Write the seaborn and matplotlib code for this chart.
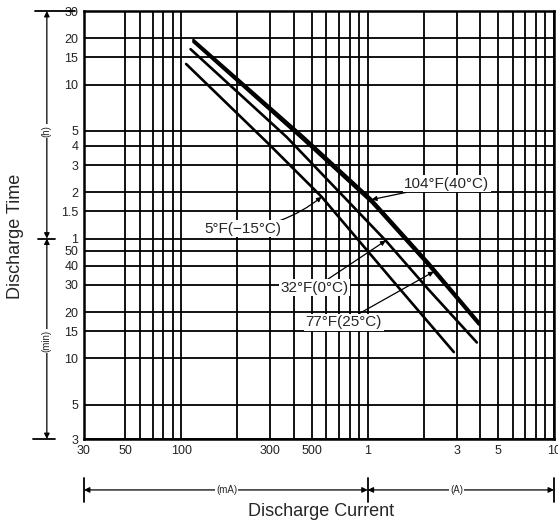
import numpy as np
import pandas as pd
import seaborn as sns
import matplotlib.pyplot as plt
from matplotlib.ticker import FixedLocator, FixedFormatter, NullLocator


# discharge current (mA) vs discharge time (min)
CURRENT_104F = [116, 453, 1051, 2128, 3953]
TIME_104F = [1167, 274, 107.5, 41.7, 17.2]
CURRENT_77F = [116, 453, 1051, 2128, 3953]
TIME_77F = [1136, 262, 103, 40, 16.6]
CURRENT_32F = [112, 367, 1250, 2128, 3855]
TIME_32F = [1018, 274, 58.2, 27.9, 12.7]
CURRENT_5F = [106, 294, 566, 1468, 2900]
TIME_5F = [816, 247, 112, 28.8, 11.0]

LABELS = ['104°F(40°C)', '77°F(25°C)', '32°F(0°C)', '5°F(−15°C)']

X_GRID = [30, 50, 60, 70, 80, 90, 100, 200, 300, 400, 500, 600, 700, 800, 900,
          1000, 2000, 3000, 4000, 5000, 6000, 7000, 8000, 9000, 10000]
X_TICK_LABELS = {30: '30', 50: '50', 100: '100', 300: '300', 500: '500',
                 1000: '1', 3000: '3', 5000: '5', 10000: '10'}
Y_GRID = [1800, 1200, 900, 600, 300, 240, 180, 120, 90, 60,
          50, 40, 30, 20, 15, 10, 5, 3]
Y_TICK_LABELS = ['30', '20', '15', '10', '5', '4', '3', '2', '1.5', '1',
                 '50', '40', '30', '20', '15', '10', '5', '3']


def build_frame():
    parts = []
    for lab, cur, tm in zip(LABELS,
                            [CURRENT_104F, CURRENT_77F, CURRENT_32F, CURRENT_5F],
                            [TIME_104F, TIME_77F, TIME_32F, TIME_5F]):
        parts.append(pd.DataFrame({'current': cur, 'time': tm, 'temp': lab}))
    return pd.concat(parts, ignore_index=True)


def curve_at(df, lab, x):
    d = df[df.temp == lab]
    return float(np.exp(np.interp(np.log(x), np.log(d.current), np.log(d.time))))


sns.set_style('white')
plt.rcParams['font.family'] = ['Liberation Sans', 'DejaVu Sans']

df = build_frame()

fig = plt.figure(figsize=(5.58, 5.25), dpi=100)
ax = fig.add_axes([0.1505, 0.1638, 0.8423, 0.8152])
ax.set_xscale('log')
ax.set_yscale('log')

sns.lineplot(data=df, x='current', y='time', hue='temp', sort=False,
             palette={l: 'black' for l in LABELS}, linewidth=1.9,
             legend=False, ax=ax, zorder=3)

ax.set_xlim(30, 10000)
ax.set_ylim(3, 1800)

ax.xaxis.set_major_locator(FixedLocator(X_GRID))
ax.xaxis.set_major_formatter(FixedFormatter([X_TICK_LABELS.get(v, '') for v in X_GRID]))
ax.xaxis.set_minor_locator(NullLocator())
ax.yaxis.set_major_locator(FixedLocator(Y_GRID))
ax.yaxis.set_major_formatter(FixedFormatter(Y_TICK_LABELS))
ax.yaxis.set_minor_locator(NullLocator())
ax.tick_params(axis='x', length=0, labelsize=9, pad=4, colors='#222222')
ax.tick_params(axis='y', length=0, labelsize=9, pad=4, colors='#222222')
ax.grid(True, color='black', linewidth=1.3)
ax.set_xlabel('')
ax.set_ylabel('')
for s in ax.spines.values():
    s.set_color('black')
    s.set_linewidth(1.8)

# curve labels with arrows
arrow = dict(arrowstyle='-|>', color='black', lw=0.9, mutation_scale=7,
             shrinkA=0, shrinkB=0)
box = dict(boxstyle='square,pad=0.1', fc='white', ec='none')
notes = [('104°F(40°C)', 1051, (0.772, 0.596), 'arc3,rad=0.0'),
         ('5°F(−15°C)', 566, (0.338, 0.491), 'arc3,rad=0.15'),
         ('32°F(0°C)', 1250, (0.491, 0.353), 'arc3,rad=0.0'),
         ('77°F(25°C)', 2265, (0.553, 0.273), 'arc3,rad=0.0')]
for lab, xc, pos, cs in notes:
    ax.annotate(lab, xy=(xc, curve_at(df, lab, xc)), xycoords='data',
                xytext=pos, textcoords='axes fraction', ha='center', va='center',
                fontsize=11, bbox=box, zorder=5,
                arrowprops=dict(arrow, connectionstyle=cs))

# dimension lines for the units
dim = dict(arrowstyle='<|-|>', color='black', lw=0.9, mutation_scale=8,
           shrinkA=0, shrinkB=0)
ax.annotate('', xy=(-0.079, 1800), xytext=(-0.079, 60),
            xycoords=('axes fraction', 'data'), arrowprops=dim, annotation_clip=False)
ax.annotate('', xy=(-0.079, 60), xytext=(-0.079, 3),
            xycoords=('axes fraction', 'data'), arrowprops=dim, annotation_clip=False)
ax.text(-0.079, 300, '(h)', transform=ax.get_yaxis_transform(), rotation=90,
        ha='center', va='center', fontsize=7, bbox=box)
ax.text(-0.079, 13, '(min)', transform=ax.get_yaxis_transform(), rotation=90,
        ha='center', va='center', fontsize=7, bbox=box)
for yv, x0, x1 in [(1800, -0.104, -0.019), (60, -0.097, -0.062), (3, -0.109, -0.062)]:
    ax.plot([x0, x1], [yv, yv], color='black', lw=1.3,
            transform=ax.get_yaxis_transform(), clip_on=False)

ax.annotate('', xy=(30, -0.119), xytext=(1000, -0.119),
            xycoords=('data', 'axes fraction'), arrowprops=dim, annotation_clip=False)
ax.annotate('', xy=(1000, -0.119), xytext=(10000, -0.119),
            xycoords=('data', 'axes fraction'), arrowprops=dim, annotation_clip=False)
ax.text(175, -0.119, '(mA)', transform=ax.get_xaxis_transform(),
        ha='center', va='center', fontsize=7, bbox=box)
ax.text(3000, -0.119, '(A)', transform=ax.get_xaxis_transform(),
        ha='center', va='center', fontsize=7, bbox=box)
for xv in [30, 1000, 10000]:
    ax.plot([xv, xv], [-0.091, -0.147], color='black', lw=1.3,
            transform=ax.get_xaxis_transform(), clip_on=False)

fig.text(0.027, 0.55, 'Discharge Time', rotation=90, ha='center', va='center',
         fontsize=13)
fig.text(0.575, 0.025, 'Discharge Current', ha='center', va='center', fontsize=13)

fig.savefig('out.png', dpi=100)
